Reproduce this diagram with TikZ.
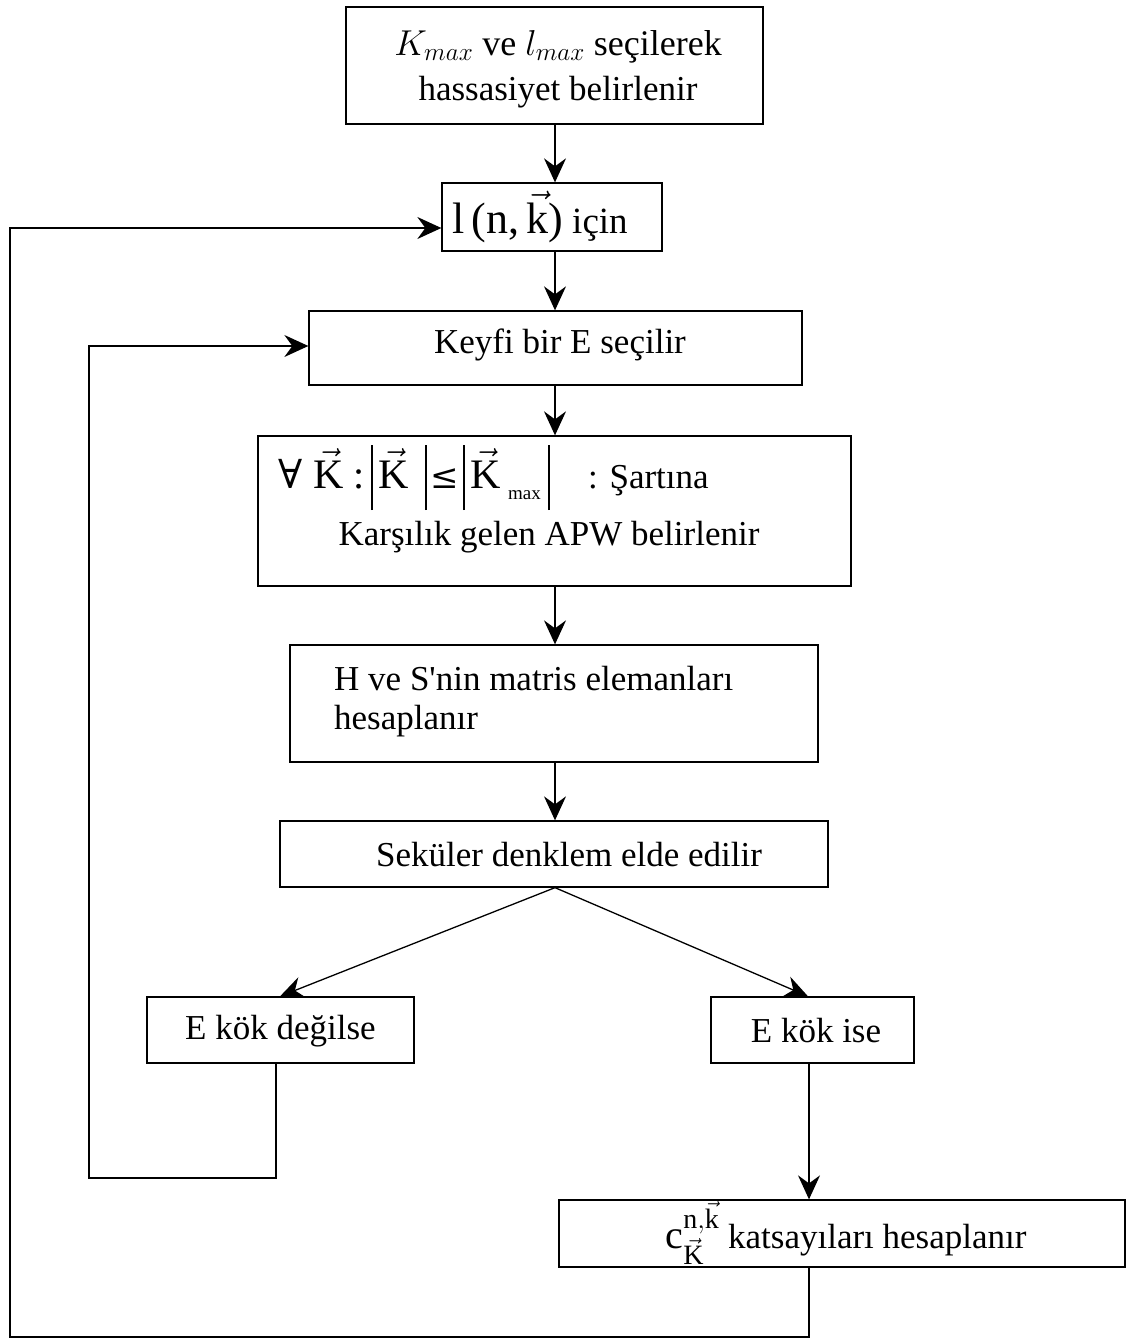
\RequirePackage{fix-cm}
\documentclass[tikz,border=0pt]{standalone}
\usepackage{amsmath}
\usepackage{fontspec}
\setmainfont{Liberation Serif}
\setmathrm{Liberation Serif}
\newfontfamily\symfont{DejaVu Serif}
\usetikzlibrary{arrows.meta}
\newcommand{\absbar}{\vrule width 1.3pt height 43pt depth 22pt}
\newcommand{\putat}[2]{\makebox[0pt][l]{\hspace*{#1}#2}}
\newcommand{\bigK}{{\fontsize{42}{45}\selectfont$\vec{\mathrm{K}}$}}
\tikzset{
 box/.style={draw, line width=1.3pt, inner sep=0pt},
 txt/.style={inner sep=0pt, align=center, font=\fontsize{35}{45}\selectfont},
 arr/.style={line width=1.3pt, -{Stealth[length=24pt,width=22pt,inset=8pt]}},
 ln/.style={line width=1.3pt}
}
\begin{document}
\begin{tikzpicture}[x=1pt,y=-1pt]
\useasboundingbox (0,0) rectangle (1128,1340);
% boxes
\node[box, minimum width=417pt, minimum height=117pt] (b1) at (554.5,65.5) {};
\node[box, minimum width=220pt, minimum height=68pt] (b2) at (552,217) {};
\node[box, minimum width=493pt, minimum height=74pt] (b3) at (555.5,348) {};
\node[box, minimum width=593pt, minimum height=150pt] (b4) at (554.5,511) {};
\node[box, minimum width=528pt, minimum height=117pt] (b5) at (554,703.5) {};
\node[box, minimum width=548pt, minimum height=66pt] (b6) at (554,854) {};
\node[box, minimum width=267pt, minimum height=66pt] (b7) at (280.5,1030) {};
\node[box, minimum width=203pt, minimum height=66pt] (b8) at (812.5,1030) {};
\node[box, minimum width=566pt, minimum height=67pt] (b9) at (842,1233.5) {};
% texts
\node[txt] (t1) at (558,69) {\fontsize{36}{45}\selectfont$K_{max}$ ve $l_{max}$ seçilerek\\hassasiyet belirlenir};
\node[txt] (t2) at (540,217) {{\fontsize{44}{50}\selectfont l\,(n,\,$\vec{\mathrm{k}}$)} {\fontsize{37}{45}\selectfont için}};
\node[txt] (t3) at (560,345) {Keyfi bir E seçilir};
\node[txt, anchor=base west] (t4a) at (278,488) {\makebox[428pt][l]{%
\putat{0pt}{{\fontsize{40}{45}\symfont ∀}}%
\putat{35pt}{\bigK}%
\putat{75pt}{{\fontsize{40}{45}\selectfont :}}%
\putat{93pt}{\absbar}%
\putat{100pt}{\bigK}%
\putat{147pt}{\absbar}%
\putat{152pt}{{\fontsize{34}{45}\symfont ≤}}%
\putat{185pt}{\absbar}%
\putat{192pt}{\bigK}%
\putat{230pt}{\raisebox{-11pt}{\fontsize{19}{20}\selectfont max}}%
\putat{270pt}{\absbar}%
\putat{310pt}{: Şartına}}};
\node[txt] (t4b) at (549,537) {Karşılık gelen APW belirlenir};
\node[txt, anchor=west, align=left, font=\fontsize{35}{39}\selectfont] (t5) at (334,702) {H ve S\textquotesingle nin matris elemanları\\hesaplanır};
\node[txt] (t6) at (569,855) {Seküler denklem elde edilir};
\node[txt] (t7) at (280.5,1031) {E kök değilse};
\node[txt] (t8) at (816,1031) {E kök ise};
\node[txt] (t9) at (846,1233) {{\fontsize{40}{45}\selectfont$\mathrm{c}^{\mathrm{n},\vec{\mathrm{k}}}_{\vec{\mathrm{K}}}$} katsayıları hesaplanır};
% helper coordinates
\coordinate (ax) at (555,0);
\coordinate (x276) at (276,0);
\coordinate (x809) at (809,0);
\coordinate (x808) at (808,0);
\coordinate (x280) at (280,0);
\coordinate (o1) at (10,1337);
\coordinate (o2) at (10,228);
\coordinate (i1) at (89,1178);
\coordinate (i2) at (89,346);
% connectors
\draw[arr] (b1.south -| ax) -- (b2.north -| ax);
\draw[arr] (b2.south -| ax) -- (b3.north -| ax);
\draw[arr] (b3.south -| ax) -- (b4.north -| ax);
\draw[arr] (b4.south -| ax) -- (b5.north -| ax);
\draw[arr] (b5.south -| ax) -- (b6.north -| ax);
\draw[arr] (b6.south -| ax) -- (b7.north -| x280);
\draw[arr] (b6.south -| ax) -- (b8.north -| x808);
\draw[arr] (b8.south -| x809) -- (b9.north -| x809);
\draw[arr] (b7.south -| x276) -- (i1 -| x276) -- (i1) -- (i2) -- (i2 -| b3.west);
\draw[arr] (b9.south -| x809) -- (o1 -| x809) -- (o1) -- (o2) -- (o2 -| b2.west);
\end{tikzpicture}
\end{document}
